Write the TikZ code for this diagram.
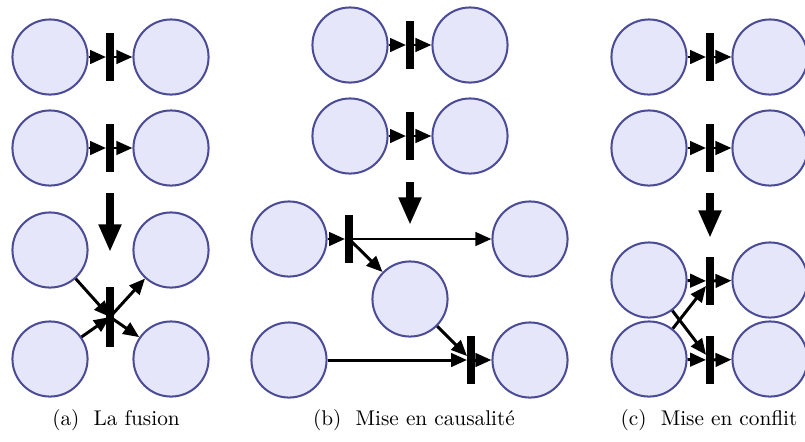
\documentclass[tikz,border=0pt]{standalone}
\usetikzlibrary{arrows.meta}
\definecolor{placefill}{RGB}{230,230,250}
\definecolor{placeline}{RGB}{75,75,150}
\begin{document}
\begin{tikzpicture}[x=0.47pt,y=-0.47pt,
 place/.style={circle,draw=placeline,fill=placefill,line width=0.95pt,minimum size=35.3pt,inner sep=0pt},
 trans/.style={rectangle,fill=black,minimum width=3.3pt,minimum height=22.5pt,inner sep=0pt},
 transl/.style={trans,minimum height=28.2pt},
 arc/.style={line width=1.4pt,-{Triangle[length=7.5pt,width=6.3pt]}},
 bigarrow/.style={line width=3.3pt,-{Triangle[length=13pt,width=10pt]}},
 caption/.style={anchor=base}]
\useasboundingbox (0,0) rectangle (805,441);

% ---------- (a) ----------
\node[place] (a1) at (50,57) {};
\node[place] (a2) at (171,57) {};
\node[trans] (ta1) at (110,57) {};
\node[place] (a3) at (50,148) {};
\node[place] (a4) at (171,148) {};
\node[trans] (ta2) at (110,148) {};
\draw[arc] (a1) -- (ta1);
\draw[arc] (ta1) -- (a2);
\draw[arc] (a3) -- (ta2);
\draw[arc] (ta2) -- (a4);
\coordinate (ad1) at (110,193);
\coordinate (ad2) at (110,252);
\draw[bigarrow] (ad1) -- (ad2);
\node[place] (a5) at (50,250) {};
\node[place] (a6) at (171,250) {};
\node[place] (a7) at (50,359) {};
\node[place] (a8) at (171,359) {};
\node[transl] (ta3) at (110,317) {};
\draw[arc] (a5) -- (ta3.center);
\draw[arc] (a7) -- (ta3.center);
\draw[arc] (ta3.center) -- (a6);
\draw[arc] (ta3.center) -- (a8);
\node[caption] (capa) at (116,425) {(a)~ La fusion};

% ---------- (b) ----------
\node[place] (b1) at (350,45) {};
\node[place] (b2) at (470,45) {};
\node[trans] (tb1) at (410,45) {};
\node[place] (b3) at (350,136) {};
\node[place] (b4) at (470,136) {};
\node[trans] (tb2) at (410,136) {};
\draw[arc] (b1) -- (tb1);
\draw[arc] (tb1) -- (b2);
\draw[arc] (b3) -- (tb2);
\draw[arc] (tb2) -- (b4);
\coordinate (bd1) at (410,182);
\coordinate (bd2) at (410,225);
\draw[bigarrow] (bd1) -- (bd2);
\node[place] (b5) at (289,239) {};
\node[place] (b6) at (530,239) {};
\node[place] (b7) at (410,299) {};
\node[place] (b8) at (289,360) {};
\node[place] (b9) at (530,360) {};
\node[trans] (tb3) at (349,239) {};
\node[trans] (tb4) at (471,360) {};
\draw[arc] (b5) -- (tb3);
\draw[arc] (tb3.center) -- (b6);
\draw[arc] (tb3.center) -- (b7);
\draw[arc] (b7) -- (tb4);
\draw[arc] (b8) -- (tb4);
\draw[arc] (tb4) -- (b9);
\node[caption] (capb) at (414,425) {(b)~ Mise en causalité};

% ---------- (c) ----------
\node[place] (c1) at (649,57) {};
\node[place] (c2) at (770,57) {};
\node[trans] (tc1) at (710,57) {};
\node[place] (c3) at (649,148) {};
\node[place] (c4) at (770,148) {};
\node[trans] (tc2) at (710,148) {};
\draw[arc] (c1) -- (tc1);
\draw[arc] (tc1) -- (c2);
\draw[arc] (c3) -- (tc2);
\draw[arc] (tc2) -- (c4);
\coordinate (cd1) at (710,193);
\coordinate (cd2) at (710,238);
\draw[bigarrow] (cd1) -- (cd2);
\node[place] (c5) at (649,280) {};
\node[place] (c6) at (770,280) {};
\node[place] (c7) at (649,359) {};
\node[place] (c8) at (770,359) {};
\node[trans] (tc3) at (710,281) {};
\node[trans] (tc4) at (710,360) {};
\draw[arc] (c5) -- (tc3);
\draw[arc] (tc3) -- (c6);
\draw[arc] (c7) -- (tc4);
\draw[arc] (tc4) -- (c8);
\draw[arc] (c5) -- (tc4);
\draw[arc] (c7) -- (tc3);
\node[caption] (capc) at (709,425) {(c)~ Mise en conflit};
\end{tikzpicture}
\end{document}
